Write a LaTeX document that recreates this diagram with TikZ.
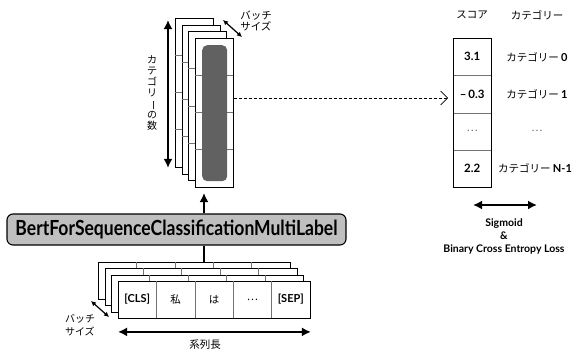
\documentclass[tikz,border=0pt]{standalone}
\usepackage{fontspec}
\setmainfont{Noto Sans CJK JP}
\newfontfamily\latinbf{Lato}
\usetikzlibrary{arrows.meta}
\tikzset{>=latex}
\tikzset{
  sheet/.style={draw, fill=white, line width=0.9pt, inner sep=0pt},
  cellline/.style={draw=black!55, line width=0.6pt},
  bigarrow/.style={line width=1.8pt, {Latex[length=9pt,width=9pt]}-{Latex[length=9pt,width=9pt]}},
  uparrow/.style={line width=1.8pt, -{Latex[length=9pt,width=9pt]}},
  smallarrow/.style={line width=1.2pt, {Latex[length=5pt,width=5pt]}-{Latex[length=5pt,width=5pt]}},
  lbl/.style={font=\fontsize{10.5}{11}\selectfont, inner sep=1pt},
  num/.style={font=\latinbf\bfseries\fontsize{11.5}{12}\selectfont, inner sep=1pt},
}
\newcommand{\tokbf}[1]{{\latinbf\bfseries\fontsize{11}{12}\selectfont #1}}

\begin{document}
\begin{tikzpicture}[x=1pt, y=-1pt]
  \useasboundingbox (0,0) rectangle (576,351);

  % output stack
  \foreach \i in {0,1,2,3} {
    \node[sheet, minimum width=38pt, minimum height=149pt, anchor=north west] (top\i) at (175+6.67*\i, 18+6.67*\i) {};
    \foreach \k in {1,2,3}
      \draw[cellline] (top\i.north west) ++(0, 37.25*\k) -- ++(38,0);
  }
  \node[fill=black!62, rounded corners=5pt, minimum width=25pt, minimum height=136pt, inner sep=0pt, anchor=north west] (logits) at (202,45) {};

  \draw[bigarrow] ([xshift=-7pt,yshift=-2pt]top0.north west) -- ([xshift=-7pt]top0.south west);
  \node[lbl, align=center, font=\fontsize{10}{11}\selectfont] (ncat) at (152,93)
    {カ\\テ\\ゴ\\リ\\\makebox[1em]{\rotatebox[origin=c]{-90}{ー}}\\の\\数};

  \coordinate (btop1) at (223,20);
  \coordinate (btop2) at (242,37);
  \draw[smallarrow] (btop1) -- (btop2);
  \node[lbl, align=left] (batchtop) at (256,21) {バッチ\\サイズ};

  % score column
  \node[lbl] (hdscore) at (472,15) {スコア};
  \node[lbl] (hdcat) at (537,15) {カテゴリー};
  \node[num, minimum width=38pt, minimum height=37.25pt, anchor=north west] (sc0) at (453,38) {3.1};
  \node[num, minimum width=38pt, minimum height=37.25pt, anchor=north west] (sc1) at (453,75.25) {–\,0.3};
  \node[lbl, text=black!60, minimum width=38pt, minimum height=37.25pt, anchor=north west] (sc2) at (453,112.5) {…};
  \node[num, minimum width=38pt, minimum height=37.25pt, anchor=north west] (sc3) at (453,149.75) {2.2};
  \foreach \k in {0,1,2}
    \draw[cellline] (sc\k.south west) -- (sc\k.south east);
  \draw[line width=0.9pt] (sc0.north west) rectangle (sc3.south east);

  \node[lbl] (cat0) at (sc0 -| hdcat) {カテゴリー \tokbf{0}};
  \node[lbl] (cat1) at (sc1 -| hdcat) {カテゴリー \tokbf{1}};
  \node[lbl, text=black!60] (cat2) at (sc2 -| hdcat) {…};
  \node[lbl] (cat3) at ([xshift=-2pt]sc3 -| hdcat) {カテゴリー \tokbf{N-1}};

  \coordinate (dashy) at (0,98);
  \draw[dash pattern=on 3pt off 2pt, line width=0.6pt, -{Straight Barb[length=7pt,width=14pt]}]
    (top3.east |- dashy) -- ([xshift=-5pt]sc1.west |- dashy);

  \coordinate (lossl) at (473,205);
  \coordinate (lossr) at (537,205);
  \draw[bigarrow] (lossl) -- (lossr);
  \node[num, align=center, font=\latinbf\bfseries\fontsize{10.5}{13}\selectfont] (loss) at (504,236)
    {Sigmoid\\\&\\Binary Cross Entropy Loss};

  % model
  \node[draw, fill=black!25, rounded corners=6pt, line width=1.1pt, minimum width=339pt, minimum height=31pt, inner sep=0pt] (bert) at (176.5,229.5)
    {\resizebox{322pt}{15.5pt}{\latinbf\bfseries BertForSequenceClassificationMultiLabel}};

  % input stack
  \foreach \i in {0,1,2,3} {
    \node[sheet, minimum width=192pt, minimum height=37pt, anchor=north west] (bot\i) at (98+6.67*\i, 262+6.33*\i) {};
    \foreach \k in {1,2,3,4}
      \draw[cellline] (bot\i.north west) ++(38.4*\k,0) -- ++(0,37);
  }
  \foreach \t [count=\k from 0] in {\tokbf{[CLS]}, 私, は, …, \tokbf{[SEP]}}
    \node[lbl] (tok\k) at (137.2+38.4*\k, 299.5) {\t};

  \coordinate (upx) at (204,193);
  \draw[uparrow] (bert.north -| upx) -- (upx);
  \draw[line width=1.8pt] (bert.south -| upx) -- (upx |- bot0.north);

  \draw[bigarrow] ([yshift=-13pt]bot3.south west) -- ([yshift=-13pt]bot3.south east);
  \node[lbl] (seqlen) at (205,345) {系列長};

  \coordinate (bbot1) at (91,301);
  \coordinate (bbot2) at (109,317);
  \draw[smallarrow] (bbot1) -- (bbot2);
  \node[lbl, align=left, font=\fontsize{10}{13}\selectfont] (batchbot) at (80,325) {バッチ\\サイズ};
\end{tikzpicture}
\end{document}
